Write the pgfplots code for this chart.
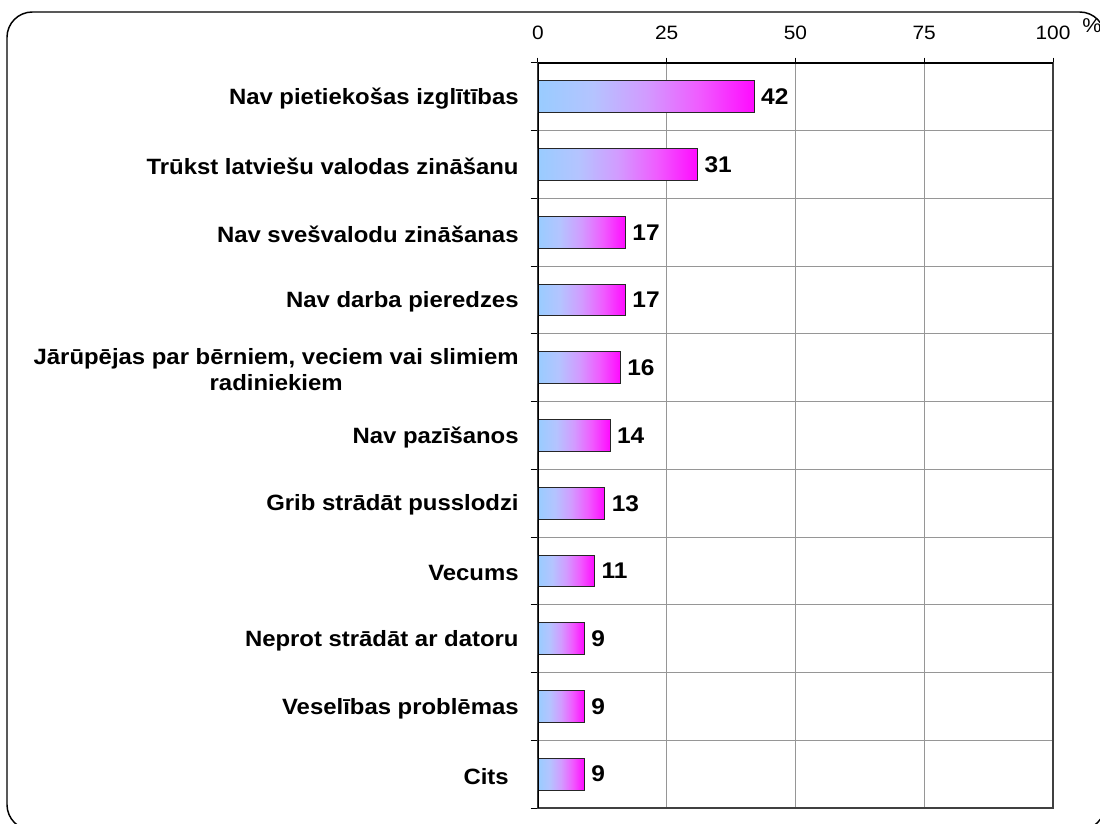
\documentclass[border=0pt]{standalone}
\usepackage{fontspec}
\setmainfont{Liberation Sans}[FakeStretch=1.08]
\usepackage{pgfplots}
\pgfplotsset{compat=1.18}
\definecolor{gridgray}{RGB}{150,150,150}
\definecolor{gA}{RGB}{153,204,255}
\definecolor{gB}{RGB}{180,196,255}
\definecolor{gC}{RGB}{210,155,255}
\definecolor{gD}{RGB}{240,90,255}
\definecolor{gE}{RGB}{255,10,255}
% left-to-right fill of each bar (bar spans 25bp..75bp of the shading)
\pgfdeclarehorizontalshading{barshade}{100bp}{%
  color(0bp)=(gA); color(25bp)=(gA); color(37.5bp)=(gB); color(50bp)=(gC);
  color(62.5bp)=(gD); color(75bp)=(gE); color(100bp)=(gE)}

\pgfplotsset{onebar/.style={draw=black!85, line width=0.7pt, shading=barshade, bar shift=0pt}}

\begin{document}
\begin{tikzpicture}[x=1pt,y=1pt]
\useasboundingbox (0,0) rectangle (825,618);
\clip (0,0) rectangle (825,618);
% rounded outer frame
\draw[line width=1.1pt, rounded corners=19pt] (5.25,-4.5) -- (5.25,609) -- (828.75,609) -- (828.75,-4.5) -- cycle;

\begin{axis}[
  at={(403.5pt,12pt)}, anchor=south west,
  scale only axis, width=386.25pt, height=558.75pt,
  xbar, bar width=0.47,
  xmin=0, xmax=100, ymin=-0.5, ymax=10.5,
  y dir=reverse,
  /pgf/number format/assume math mode=true,
  xtick={0,25,50,75,100},
  xtick pos=right, xticklabel pos=right,
  xticklabel style={font=\fontsize{14.5}{17}\selectfont, yshift=10pt},
  xmajorgrids,
  ytick={0,...,10},
  yticklabels={
    Nav pietiekošas izglītības,
    Trūkst latviešu valodas zināšanu,
    Nav svešvalodu zināšanas,
    Nav darba pieredzes,
    {Jārūpējas par bērniem, veciem vai slimiem\\radiniekiem},
    Nav pazīšanos,
    Grib strādāt pusslodzi,
    Vecums,
    Neprot strādāt ar datoru,
    Veselības problēmas,
    {Cits\kern0.45em}},
  yticklabel style={font=\bfseries\fontsize{16.6}{19.5}\selectfont, align=center, xshift=-7pt, yshift=-1.5pt},
  ytick pos=left,
  minor ytick={-0.5,0.5,...,10.5},
  yminorgrids,
  major y tick style={draw=none},
  tick align=outside,
  major tick length=4pt,
  minor tick length=5.5pt,
  tick style={black, line width=0.75pt},
  grid style={gridgray, line width=0.75pt},
  minor grid style={gridgray, line width=0.75pt},
  axis line style={black!75, line width=0.9pt},
  nodes near coords,
  nodes near coords style={font=\bfseries\fontsize{17}{19}\selectfont, anchor=west, xshift=1.5pt},
]
\addplot[onebar] coordinates {(42,0)};
\addplot[onebar] coordinates {(31,1)};
\addplot[onebar] coordinates {(17,2)};
\addplot[onebar] coordinates {(17,3)};
\addplot[onebar] coordinates {(16,4)};
\addplot[onebar] coordinates {(14,5)};
\addplot[onebar] coordinates {(13,6)};
\addplot[onebar] coordinates {(11,7)};
\addplot[onebar] coordinates {(9,8)};
\addplot[onebar] coordinates {(9,9)};
\addplot[onebar] coordinates {(9,10)};
% dark left axis and top edge
\draw[black, line width=0.9pt] (axis cs:0,10.5) -- (axis cs:0,-0.5) -- (axis cs:100,-0.5);
\end{axis}

\node[font=\fontsize{15}{17}\selectfont] at (819,598.5) {\%};
\end{tikzpicture}
\end{document}
